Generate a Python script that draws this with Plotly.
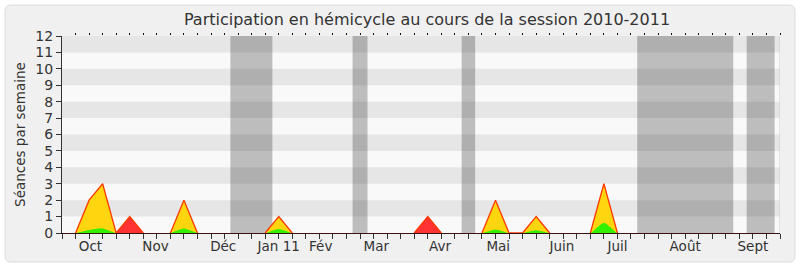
import plotly.graph_objects as go

# ---- data (week index 0..53) ----
weeks = list(range(54))
total = [0, 0, 2, 3, 0, 1, 0, 0, 0, 2, 0, 0, 0, 0, 0, 0, 1, 0, 0, 0,
         0, 0, 0, 0, 0, 0, 0, 1, 0, 0, 0, 0, 2, 0, 0, 1, 0, 0, 0, 0,
         3, 0, 0, 0, 0, 0, 0, 0, 0, 0, 0, 0, 0, 0]
presence = [0, 0, 2, 3, 0, 0, 0, 0, 0, 2, 0, 0, 0, 0, 0, 0, 1, 0, 0, 0,
            0, 0, 0, 0, 0, 0, 0, 0, 0, 0, 0, 0, 2, 0, 0, 1, 0, 0, 0, 0,
            3, 0, 0, 0, 0, 0, 0, 0, 0, 0, 0, 0, 0, 0]
interventions = [0, 0, 0.18, 0.28, 0, 0, 0, 0, 0, 0.27, 0, 0, 0, 0, 0, 0, 0.24, 0, 0, 0,
                 0, 0, 0, 0, 0, 0, 0, 0, 0, 0, 0, 0, 0.22, 0, 0, 0.17, 0, 0, 0, 0,
                 0.62, 0, 0, 0, 0, 0, 0, 0, 0, 0, 0, 0, 0, 0]
month_labels = ["Oct", "Nov", "Déc", "Jan 11", "Fév", "Mar", "Avr", "Mai", "Juin", "Juil", "Août", "Sept"]
month_pos = [2.1, 6.9, 11.9, 16.0, 19.1, 23.2, 27.9, 32.2, 36.9, 41.0, 46.0, 51.0]
vacations = [(12.43, 15.53), (21.45, 22.55), (29.5, 30.5), (42.46, 49.55), (50.54, 52.6)]
y_ticks = list(range(13))

XMAX = 53
n = len(total)
# outline only where a peak is drawn (not along the zero baseline)
outline = [total[i] if (total[i] or (i > 0 and total[i - 1]) or (i < n - 1 and total[i + 1])) else None
           for i in range(n)]

fig = go.Figure()
fig.add_trace(go.Scatter(x=weeks, y=total, mode="lines", fill="tozeroy",
                         fillcolor="#FF3333", line=dict(width=0, color="#FF3333"),
                         hoverinfo="skip", showlegend=False))
fig.add_trace(go.Scatter(x=weeks, y=presence, mode="lines", fill="tozeroy",
                         fillcolor="#FFD510", line=dict(width=0, color="#FFD510"),
                         hoverinfo="skip", showlegend=False))
fig.add_trace(go.Scatter(x=weeks, y=interventions, mode="lines", fill="tozeroy",
                         fillcolor="#33F000", line=dict(width=0, color="#33F000", shape="spline", smoothing=0.6),
                         hoverinfo="skip", showlegend=False))
fig.add_trace(go.Scatter(x=weeks, y=outline, mode="lines", connectgaps=False,
                         line=dict(width=1.3, color="#FF3A00"),
                         hoverinfo="skip", showlegend=False))
# invisible traces to activate extra axes
fig.add_trace(go.Scatter(x=[0], y=[0], xaxis="x2", mode="markers",
                         marker=dict(opacity=0), hoverinfo="skip", showlegend=False))
fig.add_trace(go.Scatter(x=[0], y=[0], xaxis="x3", mode="markers",
                         marker=dict(opacity=0), hoverinfo="skip", showlegend=False))

W, H = 800, 267
L, R, T, B = 62, 780, 36, 233
def px(xp):
    return (xp - L) / (R - L)
def py(yp):
    return (B - yp) / (B - T)

shapes = []
x0, x1, y0, y1, r = 5, 795, 5, 262, 6
rx, ry = r / (R - L), r / (B - T)
X0, X1, Y0, Y1 = px(x0), px(x1), py(y1), py(y0)
path = (f"M {X0+rx},{Y0} L {X1-rx},{Y0} Q {X1},{Y0} {X1},{Y0+ry} "
        f"L {X1},{Y1-ry} Q {X1},{Y1} {X1-rx},{Y1} L {X0+rx},{Y1} "
        f"Q {X0},{Y1} {X0},{Y1-ry} L {X0},{Y0+ry} Q {X0},{Y0} {X0+rx},{Y0} Z")
shapes.append(dict(type="path", path=path, xref="paper", yref="paper",
                   fillcolor="#F0F0F0", line=dict(color="#DCDCDC", width=1), layer="below"))
shapes.append(dict(type="rect", xref="x", yref="y", x0=0, x1=XMAX, y0=0, y1=12,
                   fillcolor="#F9F9F9", line=dict(width=0), layer="below"))
for k in range(1, 12, 2):
    shapes.append(dict(type="rect", xref="x", yref="y", x0=0, x1=XMAX, y0=k, y1=k + 1,
                       fillcolor="#E6E6E6", line=dict(width=0), layer="below"))
for a, b in vacations:
    shapes.append(dict(type="rect", xref="x", yref="y", x0=a, x1=b, y0=0, y1=12,
                       fillcolor="rgba(0,0,0,0.24)", line=dict(width=0), layer="below"))
shapes.append(dict(type="line", xref="x", yref="y", x0=XMAX, x1=XMAX, y0=0, y1=12,
                   line=dict(color="#CCCCCC", width=1), layer="below"))

fig.update_layout(
    width=W, height=H,
    margin=dict(l=L, r=W - R, t=T, b=H - B, pad=0),
    paper_bgcolor="white", plot_bgcolor="rgba(0,0,0,0)",
    font=dict(family="DejaVu Sans", color="#333333"),
    title=dict(text="Participation en hémicycle au cours de la session 2010-2011",
               x=427 / W, xanchor="center", y=1 - 19 / H, yanchor="middle", yref="container",
               font=dict(size=16, color="#333333")),
    shapes=shapes,
    xaxis=dict(range=[0, XMAX], tickvals=weeks, showticklabels=False,
               ticks="outside", ticklen=5, tickcolor="#333333", tickwidth=1,
               showline=True, linecolor="#3A1010", linewidth=1.2,
               showgrid=False, zeroline=False, fixedrange=True),
    xaxis2=dict(range=[0, XMAX], overlaying="x", anchor="y", side="bottom",
                tickvals=month_pos, ticktext=month_labels, ticks="",
                ticklabelstandoff=3,
                tickfont=dict(size=13.5, color="#333333"),
                showline=False, showgrid=False, zeroline=False),
    xaxis3=dict(range=[0, XMAX], overlaying="x", anchor="y", side="top",
                tickvals=weeks[1:], showticklabels=False, ticks="outside",
                ticklen=2, tickcolor="#111111", showline=False, showgrid=False,
                zeroline=False),
    yaxis=dict(range=[0, 12], tickvals=y_ticks, ticks="outside", ticklen=5,
               tickcolor="#333333", showline=True, linecolor="#333333", linewidth=1,
               tickfont=dict(size=14, color="#333333"),
               showgrid=False, zeroline=False,
               title=dict(text="Séances par semaine", font=dict(size=13.5, color="#333333"),
                          standoff=6)),
)

fig.write_html("out.html")
